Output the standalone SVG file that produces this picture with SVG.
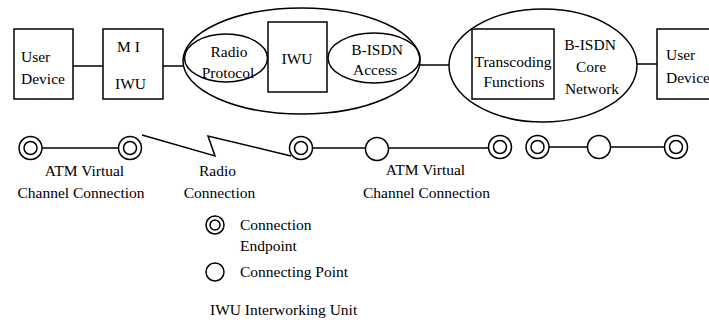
<svg xmlns="http://www.w3.org/2000/svg" width="709" height="329" viewBox="0 0 709 329" font-family="Liberation Serif, Times New Roman, serif">
<style>
.s{fill:none;stroke:#000;stroke-width:1.5}
.w{fill:#fff;stroke:#000;stroke-width:1.5}
text{font-size:15.5px;fill:#000}
.m{text-anchor:middle}
</style>
<defs>
<g id="ep"><circle r="11.5" class="w"/><circle r="6.5" class="s"/></g>
<g id="cp"><circle r="11.5" class="w"/></g>
</defs>
<g id="connectors">
<line class="s" x1="73" y1="66" x2="103" y2="66"/>
<line class="s" x1="163" y1="66" x2="183" y2="66"/>
<line class="s" x1="420" y1="65" x2="449" y2="65"/>
<line class="s" x1="637" y1="64" x2="657" y2="64"/>
<line class="s" x1="30.5" y1="148" x2="130" y2="148"/>
<polyline class="s" points="142,135 215,156 208,136 291,156"/>
<line class="s" x1="301" y1="148" x2="500" y2="148"/>
<line class="s" x1="537.5" y1="147" x2="676" y2="147"/>
</g>
<g id="user-device-left">
<rect class="s" x="14" y="29" width="59" height="70"/>
<text x="21" y="62">User</text>
<text x="21" y="84">Device</text>
</g>
<g id="mi-iwu">
<rect class="s" x="103" y="29" width="60" height="70"/>
<text x="117" y="52">M I</text>
<text x="115" y="89">IWU</text>
</g>
<g id="iwu-group">
<ellipse class="s" cx="301.5" cy="61" rx="118.5" ry="53"/>
</g>
<g id="radio-protocol">
<ellipse class="s" cx="226" cy="58" rx="41.5" ry="24"/>
<text class="m" x="229" y="57">Radio</text>
<text class="m" x="228" y="78">Protocol</text>
</g>
<g id="iwu">
<rect class="s" x="268" y="22" width="59" height="70"/>
<text class="m" x="297" y="64">IWU</text>
</g>
<g id="bisdn-access">
<ellipse class="s" cx="374" cy="58" rx="46" ry="25"/>
<text class="m" x="377" y="55">B-ISDN</text>
<text class="m" x="375" y="75">Access</text>
</g>
<g id="bisdn-core">
<ellipse class="s" cx="543" cy="65.5" rx="94" ry="56.5"/>
<text class="m" x="590" y="50">B-ISDN</text>
<text class="m" x="591" y="72">Core</text>
<text class="m" x="592" y="94">Network</text>
</g>
<g id="transcoding">
<rect class="s" x="472" y="29" width="82" height="70"/>
<text class="m" x="513" y="67">Transcoding</text>
<text class="m" x="514" y="87">Functions</text>
</g>
<g id="user-device-right">
<rect class="s" x="657" y="29" width="70" height="70"/>
<text x="666" y="60">User</text>
<text x="666" y="83">Device</text>
</g>
<g id="points">
<use href="#ep" x="30.5" y="148"/>
<use href="#ep" x="130" y="148"/>
<use href="#ep" x="301" y="148"/>
<use href="#cp" x="377" y="149"/>
<use href="#ep" x="500" y="147"/>
<use href="#ep" x="537.5" y="147"/>
<use href="#cp" x="599" y="147"/>
<use href="#ep" x="676" y="147"/>
</g>
<g id="labels">
<text class="m" x="84.5" y="176">ATM Virtual</text>
<text class="m" x="81" y="198">Channel Connection</text>
<text class="m" x="217.5" y="176">Radio</text>
<text class="m" x="219.5" y="198">Connection</text>
<text class="m" x="425.5" y="175">ATM Virtual</text>
<text class="m" x="426.5" y="198">Channel Connection</text>
</g>
<g id="legend">
<circle class="s" cx="215" cy="225" r="9"/>
<circle class="s" cx="215" cy="225" r="5"/>
<text x="240" y="230">Connection</text>
<text x="240" y="251">Endpoint</text>
<circle class="s" cx="215" cy="272" r="9"/>
<text x="240" y="277">Connecting Point</text>
<text x="210" y="315">IWU Interworking Unit</text>
</g>
</svg>
